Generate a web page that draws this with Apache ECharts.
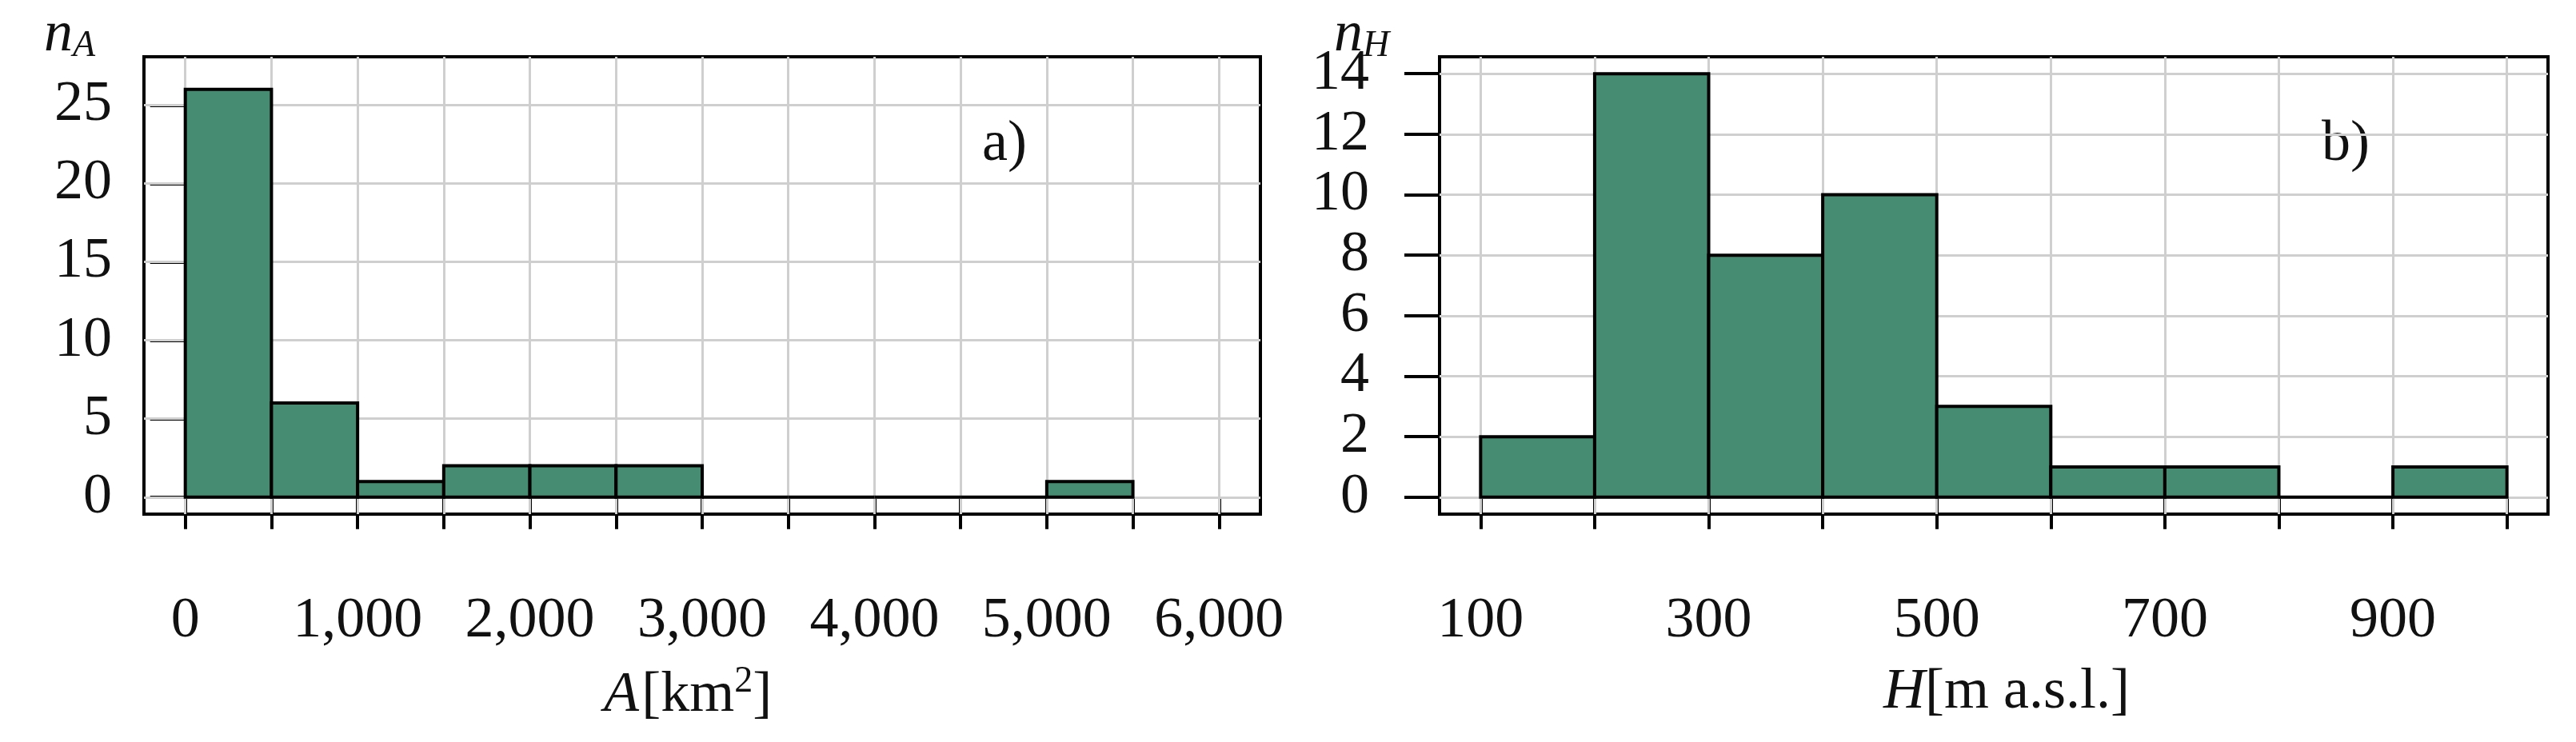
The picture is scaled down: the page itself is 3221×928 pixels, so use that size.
<!DOCTYPE html>
<html>
<head>
<meta charset="utf-8">
<script src="https://cdn.jsdelivr.net/npm/echarts@6/dist/echarts.min.js"></script>
<style>
html, body { margin: 0; padding: 0; background: #fff; }
#chart { width: 3221px; height: 928px; }
</style>
</head>
<body>
<div id="chart"></div>
<script>
// histogram a) catchment area
var areaEdges = [0, 500, 1000, 1500, 2000, 2500, 3000, 3500, 4000, 4500, 5000, 5500]
var areaCounts = [26, 6, 1, 2, 2, 2, 0, 0, 0, 0, 1]
var areaXTicks = [0, 500, 1000, 1500, 2000, 2500, 3000, 3500, 4000, 4500, 5000, 5500, 6000]
var areaXLabels = [0, 1000, 2000, 3000, 4000, 5000, 6000]
var areaYTicks = [0, 5, 10, 15, 20, 25]

// histogram b) altitude
var altEdges = [100, 200, 300, 400, 500, 600, 700, 800, 900, 1000]
var altCounts = [2, 14, 8, 10, 3, 1, 1, 0, 1]
var altXTicks = [100, 200, 300, 400, 500, 600, 700, 800, 900, 1000]
var altXLabels = [100, 300, 500, 700, 900]
var altYTicks = [0, 2, 4, 6, 8, 10, 12, 14]

var FONT = 'Liberation Serif'
var FILL = '#468c72'
var GRID = '#cfcfcf'

function bins(edges, counts) {
    let out = []
    counts.forEach((c, i) => out.push([edges[i], edges[i + 1], c]))
    return out
}

function gridLines(xs, ys) {
    let d = []
    xs.forEach(v => d.push({ xAxis: v }))
    ys.forEach(v => d.push({ yAxis: v }))
    return d
}

function histSeries(idx, edges, counts, xs, ys) {
    return [
        {
            type: 'line', xAxisIndex: idx, yAxisIndex: idx, data: [], z: 1,
            markLine: {
                silent: true, symbol: 'none', label: { show: false },
                lineStyle: { color: GRID, width: 3, type: 'solid' },
                data: gridLines(xs, ys)
            }
        },
        {
            type: 'custom', xAxisIndex: idx, yAxisIndex: idx, z: 5,
            data: bins(edges, counts),
            renderItem: function (params, api) {
                let p0 = api.coord([api.value(0), api.value(2)])
                let p1 = api.coord([api.value(1), 0])
                return {
                    type: 'rect',
                    shape: { x: p0[0], y: p0[1], width: p1[0] - p0[0], height: p1[1] - p0[1] },
                    style: { fill: FILL, stroke: '#000', lineWidth: 4 }
                }
            }
        }
    ]
}

function xAxisOf(idx, min, max, ticks, labels) {
    return {
        type: 'value', gridIndex: idx, min: min, max: max, offset: 6,
        axisLine: { show: false },
        axisTick: { show: true, customValues: ticks, length: 40, lineStyle: { color: '#000', width: 4 } },
        axisLabel: { customValues: labels, margin: 92, fontFamily: FONT, fontSize: 72, color: '#111' },
        splitLine: { show: false }
    }
}

function yAxisOf(idx, min, max, ticks, margin) {
    return {
        type: 'value', gridIndex: idx, min: min, max: max,
        axisLine: { show: false },
        axisTick: { show: true, customValues: ticks, length: 44, lineStyle: { color: '#000', width: 4 } },
        axisLabel: { customValues: ticks, margin: margin, fontFamily: FONT, fontSize: 72, color: '#111' },
        splitLine: { show: false }
    }
}

var chart = echarts.init(document.getElementById('chart'))
chart.setOption({
    animation: false,
    backgroundColor: '#fff',
    grid: [
        { left: 180, top: 71, width: 1396, height: 572, show: true, borderColor: '#000', borderWidth: 4, backgroundColor: '#fff' },
        { left: 1800, top: 71, width: 1386, height: 572, show: true, borderColor: '#000', borderWidth: 4, backgroundColor: '#fff' }
    ],
    xAxis: [
        xAxisOf(0, -240, 6240, areaXTicks, areaXLabels),
        xAxisOf(1, 64, 1036, altXTicks, altXLabels)
    ],
    yAxis: [
        yAxisOf(0, -1.08, 28.08, areaYTicks, 40),
        yAxisOf(1, -0.56, 14.56, altYTicks, 88)
    ],
    series: histSeries(0, areaEdges, areaCounts, areaXTicks, areaYTicks)
        .concat(histSeries(1, altEdges, altCounts, altXTicks, altYTicks)),
    graphic: [
        { type: 'text', left: 55, top: 8, style: { text: '{i|n}{s|A}', rich: {
            i: { fontFamily: FONT, fontStyle: 'italic', fontSize: 72, fill: '#111' },
            s: { fontFamily: FONT, fontStyle: 'italic', fontSize: 46, fill: '#111', padding: [28, 0, 0, 0] } } } },
        { type: 'text', left: 1668, top: 8, style: { text: '{i|n}{s|H}', rich: {
            i: { fontFamily: FONT, fontStyle: 'italic', fontSize: 72, fill: '#111' },
            s: { fontFamily: FONT, fontStyle: 'italic', fontSize: 46, fill: '#111', padding: [28, 0, 0, 0] } } } },
        { type: 'text', left: 1228, top: 145, style: { text: 'a)', fontFamily: FONT, fontSize: 72, fill: '#111' } },
        { type: 'text', left: 2903, top: 145, style: { text: 'b)', fontFamily: FONT, fontSize: 72, fill: '#111' } },
        { type: 'text', left: 755, top: 830, style: { text: '{i|A} {n|[km}{s|2}{n|]}', rich: {
            i: { fontFamily: FONT, fontStyle: 'italic', fontSize: 72, fill: '#111' },
            n: { fontFamily: FONT, fontSize: 72, fill: '#111' },
            s: { fontFamily: FONT, fontSize: 46, fill: '#111', padding: [0, 0, 34, 0] } } } },
        { type: 'text', left: 2355, top: 830, style: { text: '{i|H}{n|[m a.s.l.]}', rich: {
            i: { fontFamily: FONT, fontStyle: 'italic', fontSize: 72, fill: '#111' },
            n: { fontFamily: FONT, fontSize: 72, fill: '#111' } } } }
    ]
})
</script>
</body>
</html>
